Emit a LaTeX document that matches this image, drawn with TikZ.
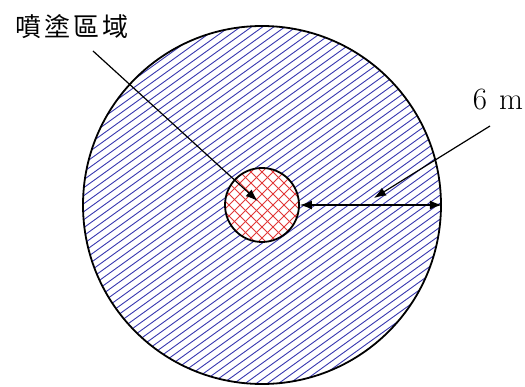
\documentclass[tikz,border=0pt]{standalone}
\usepackage{fontspec}
\newfontfamily\cjk{Noto Sans CJK TC}
\usetikzlibrary{arrows.meta}
\definecolor{hatchblue}{RGB}{55,55,175}
\definecolor{hatchred}{RGB}{225,55,55}

\begin{document}
\begin{tikzpicture}[x=1pt, y=-1pt,
    ring/.style={circle, draw=black, line width=1.8pt, inner sep=0pt},
    lead/.style={line width=1.2pt, -{Latex[length=12pt,width=9pt]}},
    dimline/.style={line width=1.2pt, {Latex[length=12pt,width=9pt]}-{Latex[length=12pt,width=9pt]}},
    hatch/.style={line width=0.9pt}
]
    \useasboundingbox (0,0) rectangle (525,387);

    % blue hatching of the outer zone
    \begin{scope}
        \clip (262,205) circle (179);
        \foreach \c in {160,168,...,660}
            \draw[hatch, hatchblue] (0,\c) -- (525,\c-378);
    \end{scope}

    % red cross hatching of the spray zone
    \fill[white] (262,205) circle (37);
    \begin{scope}
        \clip (262,205) circle (37);
        \foreach \c in {401,412,...,535}
            \draw[hatch, hatchred] (\c-300,300) -- (\c-100,100);
        \foreach \c in {-9,2,...,125}
            \draw[hatch, hatchred] (\c+100,100) -- (\c+300,300);
    \end{scope}

    % circles
    \node[ring, minimum size=358pt] (outer) at (262,205) {};
    \node[ring, minimum size=74pt] (inner) at (262,205) {};

    % labels
    \node (spray) at (72,27) {\cjk\fontsize{26}{26}\selectfont 噴\hspace{3pt}塗\hspace{3pt}區\hspace{3pt}域};
    \node (radius) at (498,100) {\fontsize{31}{31}\selectfont 6\hspace{12pt}m};

    \coordinate (spraytail) at (93,51);
    \coordinate (radiustail) at (490,126);
    \coordinate (radiustip) at (374,198);

    % leaders and dimension
    \draw[lead, shorten >=6pt] (spraytail) -- (inner.center);
    \draw[lead] (radiustail) -- (radiustip);
    \draw[dimline] (inner.east) -- (outer.east);
\end{tikzpicture}
\end{document}
